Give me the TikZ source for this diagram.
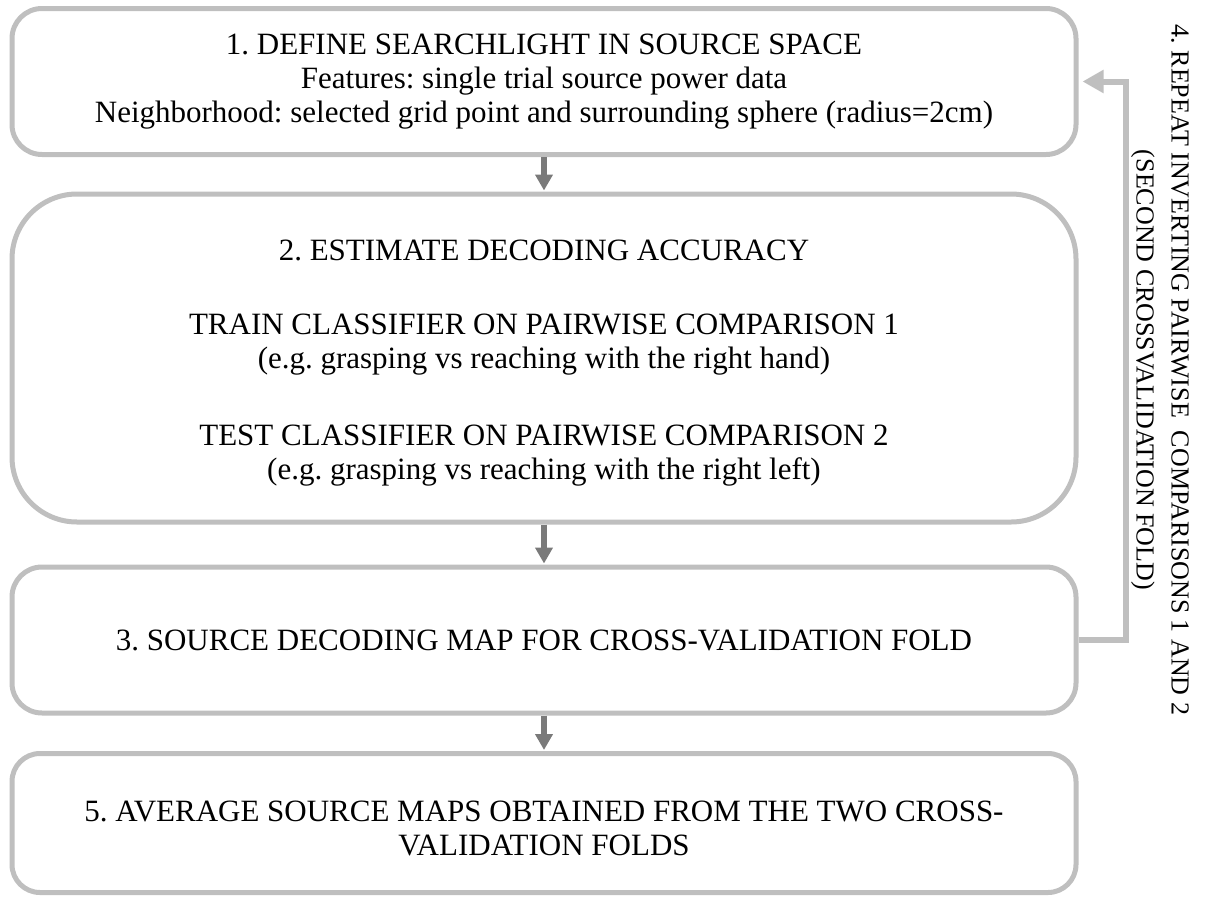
\documentclass[tikz,border=0pt]{standalone}
\usepackage{fontspec}
\setmainfont{Liberation Serif}
\usetikzlibrary{arrows.meta}
\definecolor{boxgray}{RGB}{191,191,191}
\definecolor{arrowgray}{RGB}{122,122,122}
\frenchspacing
\begin{document}
\begin{tikzpicture}[x=1pt,y=-1pt,
  stepbox/.style={draw=boxgray, line width=5pt, rounded corners=#1, inner sep=0pt, align=center,
    font=\fontsize{31}{34}\selectfont, minimum width=1064pt},
  downarrow/.style={draw=arrowgray, line width=6pt, -{Triangle[width=17pt,length=16pt]}, shorten >=1pt},
  backarrow/.style={draw=boxgray, line width=6pt, -{Triangle[width=22pt,length=21pt]}, shorten >=4pt},
  sidetext/.style={rotate=-90, align=center, font=\fontsize{26}{35}\selectfont}]
\useasboundingbox (0,0) rectangle (1205,897);
\node[stepbox=30pt, minimum height=146pt] (b1) at (544,81.5)
  {1. DEFINE SEARCHLIGHT IN SOURCE SPACE\\
   Features: single trial source power data\\
   Neighborhood: selected grid point and surrounding sphere (radius=2cm)};
\node[stepbox=65pt, minimum height=328pt] (b2) at (544,358)
  {\rule{0pt}{31pt}2. ESTIMATE DECODING ACCURACY\\[40pt]
   TRAIN CLASSIFIER ON PAIRWISE COMPARISON 1\\
   (e.g. grasping vs reaching with the right hand)\\[43pt]
   TEST CLASSIFIER ON PAIRWISE COMPARISON 2\\
   (e.g. grasping vs reaching with the right left)};
\node[stepbox=30pt, minimum height=146pt] (b3) at (544,640)
  {3. SOURCE DECODING MAP FOR CROSS-VALIDATION FOLD};
\node[stepbox=28pt, minimum height=139pt] (b5) at (544,823)
  {\rule{0pt}{31pt}5. AVERAGE SOURCE MAPS OBTAINED FROM THE TWO CROSS-\\
   VALIDATION FOLDS};
\draw[downarrow] (b1.south) -- (b2.north);
\draw[downarrow] (b2.south) -- (b3.north);
\draw[downarrow] (b3.south) -- (b5.north);
\draw[backarrow] (b3.east) -- ++(47.5,0) |- (b1.east);
\node[sidetext] (t4) at (1160,370)
  {4. REPEAT INVERTING PAIRWISE\ \ COMPARISONS 1 AND 2\\
   (SECOND CROSSVALIDATION FOLD)};
\end{tikzpicture}
\end{document}
